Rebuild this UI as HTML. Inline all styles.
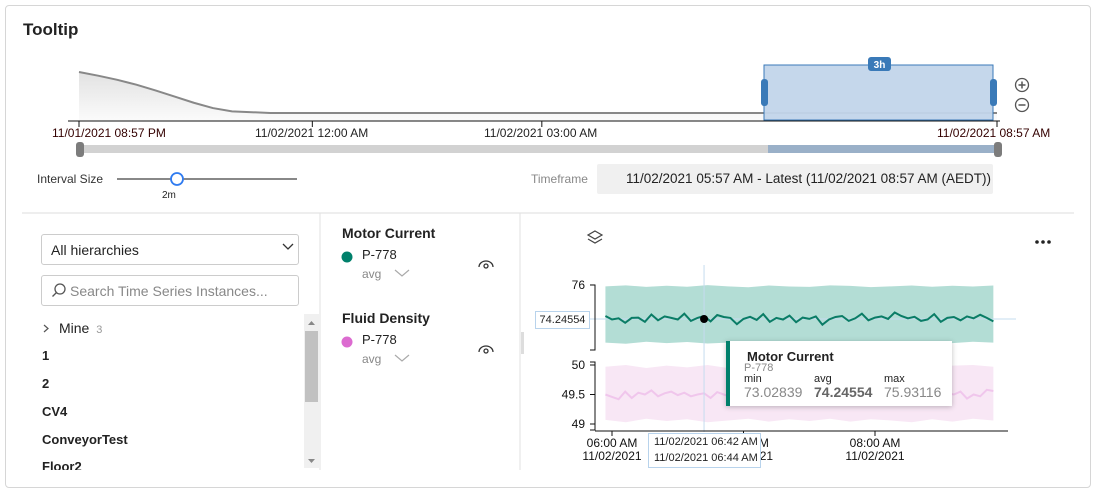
<!DOCTYPE html>
<html><head><meta charset="utf-8">
<style>
body{margin:0;width:1096px;height:492px;background:#fff;font-family:"Liberation Sans",sans-serif;overflow:hidden;position:relative}
.abs{position:absolute}
.card{left:5px;top:5px;width:1084px;height:481px;border:1px solid #d6d6d6;border-radius:4px}
.t{font-size:13px;color:#222;white-space:nowrap}
.b{font-weight:bold}
.g{color:#888}
</style></head><body>
<div class="abs card"></div>
<div class="abs b" style="left:23px;top:20px;font-size:17px;color:#222">Tooltip</div>

<svg class="abs" style="left:0;top:0" width="1096" height="492">
  <defs><linearGradient id="ag" x1="0" y1="0" x2="0" y2="1"><stop offset="0" stop-color="#e2e2e2"/><stop offset="1" stop-color="#fbfbfb"/></linearGradient></defs>
  <g id="brush"></g>
  <rect x="764" y="65" width="229" height="55" fill="#c2d5ea" fill-opacity="0.95" stroke="#3a7ab8"/>
  <rect x="761" y="79" width="7" height="27" rx="3" fill="#3a7ab8"/>
  <rect x="990" y="79" width="7" height="27" rx="3" fill="#3a7ab8"/>
  <rect x="868" y="57" width="23" height="14" rx="3" fill="#3a7ab8"/>
  <text x="879.5" y="68" font-size="10" font-weight="bold" fill="#fff" text-anchor="middle">3h</text>
  <g><circle cx="1022" cy="85" r="6.5" fill="#fff" stroke="#555" stroke-width="1.3"/><path d="M1018.5 85h7M1022 81.5v7" stroke="#555" stroke-width="1.5"/></g>
  <g><circle cx="1022" cy="105" r="6.5" fill="#fff" stroke="#555" stroke-width="1.3"/><path d="M1018.5 105h7" stroke="#555" stroke-width="1.5"/></g>
  <rect x="79" y="145" width="918" height="8" fill="#d2d2d2"/>
  <rect x="768" y="145" width="229" height="8" fill="#9ab0c8"/>
  <rect x="76" y="142" width="8" height="15" rx="3" fill="#7c7c7c"/>
  <rect x="994" y="142" width="8" height="15" rx="3" fill="#7c7c7c"/>
  <line x1="117" y1="179" x2="297" y2="179" stroke="#111"/>
  <circle cx="177" cy="179" r="6" fill="#fff" stroke="#2f7bf0" stroke-width="1.8"/>
  <line x1="22" y1="213" x2="1074" y2="213" stroke="#ddd"/>
  <line x1="320" y1="213" x2="320" y2="470" stroke="#e2e2e2"/>
  <line x1="520" y1="213" x2="520" y2="470" stroke="#e2e2e2"/>
  <rect x="521" y="332" width="3" height="22" fill="#ddd"/>
  <rect x="304" y="314" width="15" height="154" fill="#f0f0f0"/>
  <rect x="305" y="331" width="13" height="71" fill="#c1c1c1"/>
  <path d="M308 325l3.5-4 3.5 4z M308 459l3.5 4 3.5-4z" fill="#888"/>
  <g id="chart"></g>
  <g fill="none" stroke="#444" stroke-width="1.2"><path d="M595 231l7 4-7 4-7-4z"/><path d="M588 239l7 4 7-4"/></g>
  <g fill="#222"><circle cx="1037" cy="242" r="1.8"/><circle cx="1043" cy="242" r="1.8"/><circle cx="1049" cy="242" r="1.8"/></g>
  <g fill="none" stroke="#333" stroke-width="1.3"><path d="M479 267a7 6 0 0 1 14 0"/><circle cx="486" cy="266" r="2"/></g>
  <g fill="none" stroke="#333" stroke-width="1.3"><path d="M479 352a7 6 0 0 1 14 0"/><circle cx="486" cy="351" r="2"/></g>
  <circle cx="347" cy="257" r="5.5" fill="#00806b"/>
  <circle cx="347" cy="342" r="5.5" fill="#dc6bd0"/>
  <path d="M395 270l7 6 7-6M395 355l7 6 7-6" fill="none" stroke="#aaa" stroke-width="1.2"/>
  <path d="M283 244l5 5 5-5" fill="none" stroke="#333" stroke-width="1.3"/>
  <path d="M44 325l4 3.5-4 3.5" fill="none" stroke="#555" stroke-width="1.2"/>
  <g fill="none" stroke="#555" stroke-width="1.3"><circle cx="60" cy="289" r="5"/><path d="M56.5 292.5l-4 4"/></g>
  <g fill="none" stroke="#3a7ab8" stroke-width="1.2"><rect x="605" y="173" width="11" height="11"/><path d="M605 176.5h11M608 171v3M613 171v3"/></g>
</svg>

<div class="abs t" style="left:52px;top:126px;font-size:12px;color:#300">11/01/2021 08:57 PM</div>
<div class="abs t" style="left:255px;top:126px;font-size:12px">11/02/2021 12:00 AM</div>
<div class="abs t" style="left:484px;top:126px;font-size:12px">11/02/2021 03:00 AM</div>
<div class="abs t" style="left:937px;top:126px;font-size:12px;color:#300">11/02/2021 08:57 AM</div>
<div class="abs t" style="left:37px;top:172px;font-size:12px;color:#333">Interval Size</div>
<div class="abs t" style="left:162px;top:190px;font-size:10px">2m</div>
<div class="abs t g" style="left:531px;top:172px;font-size:12px">Timeframe</div>
<div class="abs t" style="left:597px;top:164px;width:396px;height:30px;background:#f0f0f0;border-radius:2px;line-height:30px;padding-left:29px;box-sizing:border-box;font-size:13.5px">11/02/2021 05:57 AM - Latest (11/02/2021 08:57 AM (AEDT))</div>

<div class="abs" style="left:41px;top:234px;width:258px;height:31px;border:1px solid #ccc;border-radius:3px;box-sizing:border-box"></div>
<div class="abs t" style="left:51px;top:242px;font-size:14px">All hierarchies</div>
<div class="abs" style="left:41px;top:275px;width:258px;height:31px;border:1px solid #ccc;border-radius:3px;box-sizing:border-box"></div>
<div class="abs t g" style="left:70px;top:283px;font-size:14px">Search Time Series Instances...</div>
<div class="abs t" style="left:59px;top:320px;font-size:14px">Mine <span style="font-size:11px;color:#999">&nbsp;3</span></div>
<div class="abs t b" style="left:42px;top:348px;font-size:13px">1</div>
<div class="abs t b" style="left:42px;top:376px;font-size:13px">2</div>
<div class="abs t b" style="left:42px;top:404px;font-size:13px">CV4</div>
<div class="abs t b" style="left:42px;top:432px;font-size:13px">ConveyorTest</div>
<div class="abs t b" style="left:42px;top:459px;font-size:13px">Floor2</div>
<div class="abs" style="left:30px;top:470px;width:300px;height:16px;background:#fff"></div>

<div class="abs t b" style="left:342px;top:225px;font-size:14px">Motor Current</div>
<div class="abs t" style="left:362px;top:247px;font-size:13px">P-778</div>
<div class="abs t g" style="left:362px;top:267px;font-size:12px">avg</div>
<div class="abs t b" style="left:342px;top:310px;font-size:14px">Fluid Density</div>
<div class="abs t" style="left:362px;top:332px;font-size:13px">P-778</div>
<div class="abs t g" style="left:362px;top:352px;font-size:12px">avg</div>

<div class="abs" style="left:726px;top:341px;width:226px;height:65px;background:#fff;box-shadow:0 1px 5px rgba(0,0,0,.25);border-left:4px solid #00806b;box-sizing:border-box">
  <div class="abs t b" style="left:17px;top:8px;font-size:13px">Motor Current</div>
  <div class="abs t g" style="left:14px;top:21px;font-size:11px">P-778</div>
  <div class="abs t" style="left:14px;top:32px;font-size:11px">min</div>
  <div class="abs t" style="left:84px;top:32px;font-size:11px">avg</div>
  <div class="abs t" style="left:154px;top:32px;font-size:11px">max</div>
  <div class="abs t g" style="left:14px;top:43px;font-size:14px">73.02839</div>
  <div class="abs t b" style="left:84px;top:43px;font-size:14px;color:#666">74.24554</div>
  <div class="abs t g" style="left:154px;top:43px;font-size:14px">75.93116</div>
</div>
<div class="abs t" style="left:535px;top:311px;width:55px;height:18px;border:1px solid #b8d3ec;background:#fff;box-sizing:border-box;font-size:11px;line-height:16px;text-align:center">74.24554</div>
<div class="abs t" style="left:648px;top:433px;width:113px;height:35px;border:1px solid #b8d3ec;background:#fff;box-sizing:border-box;font-size:11px;line-height:16px;padding-left:5px">11/02/2021 06:42 AM<br>11/02/2021 06:44 AM</div>

<script>
const NS='http://www.w3.org/2000/svg';
function mk(p,tag,a){const e=document.createElementNS(NS,tag);for(const k in a)e.setAttribute(k,a[k]);p.appendChild(e);return e;}
// brush data (relative volume over time, 11/01 20:57 -> 11/02 08:57)
const brushHours=[0,0.25,0.5,0.75,1,1.25,1.5,1.75,2,2.5,12];
const brushValues=[1.0,0.91,0.81,0.69,0.55,0.40,0.25,0.12,0.04,0,0];
const brushTickLabels=['11/01/2021 08:57 PM','11/02/2021 12:00 AM','11/02/2021 03:00 AM','11/02/2021 08:57 AM'];
const brushTickHours=[0,3.05,6.05,12];
// main chart data
const startHour=5.95, stepHour=3/60;
const motorAvg=[74.40,74.22,74.28,74.05,74.30,74.32,74.10,74.48,74.18,74.38,74.30,74.22,74.52,74.15,74.30,74.40,74.12,74.45,74.35,74.30,73.98,74.25,74.36,74.20,74.50,74.10,74.30,74.22,74.42,74.08,74.32,74.25,74.38,73.95,74.22,74.35,74.40,74.15,74.28,74.52,74.18,74.32,74.38,74.25,74.58,74.40,74.28,74.36,74.15,74.22,74.50,74.10,74.30,74.35,74.18,74.38,74.28,74.46,74.30,74.12];
const motorMax=[75.93,75.98,75.90,75.96,75.91,75.99,75.93,75.88,75.97,75.92,75.90,75.98,75.95,75.89,75.93,75.97,75.91,75.96,75.92,75.97];
const motorMin=[73.03,72.97,73.07,73.00,73.06,72.98,73.03,73.09,72.99,73.05,72.97,73.03,73.08,73.00,72.98,73.06,73.03,73.00,73.07,73.03];
const fluidAvg=[49.50,49.46,49.42,49.55,49.44,49.53,49.50,49.57,49.47,49.52,49.55,49.49,49.53,49.47,49.50,49.52,49.44,49.54,49.50,49.46,49.55,49.49,49.52,49.56,49.47,49.50,49.53,49.46,49.52,49.50,49.55,49.47,49.52,49.50,49.44,49.54,49.49,49.56,49.47,49.52,49.50,49.55,49.46,49.50,49.53,49.47,49.52,49.57,49.49,49.45,49.53,49.42,49.52,49.50,49.55,49.43,49.50,49.47,49.58,49.56];
const fluidMax=[49.97,50.00,49.95,49.99,49.96,50.00,49.95,49.99,49.97,50.00,49.98,49.95,49.97,50.00,49.98,49.95,49.97,49.99,50.00,49.97];
const fluidMin=[49.07,49.03,49.09,49.05,49.08,49.03,49.06,49.09,49.04,49.08,49.05,49.09,49.04,49.08,49.06,49.03,49.08,49.04,49.09,49.06];
const yTicksTop=[76];
const yTicksBottom=[50,49.5,49];
const xTickHours=[6,7,8];
const xTickLabels=['06:00 AM','07:00 AM','08:00 AM'];
const hoverHour=6.7;
const hoverValue=74.24554;

// brush
const bg=document.getElementById('brush');
const bx=h=>79+h/12*918, by=v=>113-v*41;
let d='M'+bx(0)+' 121';brushHours.forEach((h,i)=>d+=' L'+bx(h)+' '+by(brushValues[i]));d+=' L'+bx(12)+' 121Z';
mk(bg,'path',{d:d,fill:'url(#ag)'});
let dl='';brushHours.forEach((h,i)=>dl+=(i?' L':'M')+bx(h)+' '+by(brushValues[i]));
const bl=mk(bg,'path',{d:dl,fill:'none',stroke:'#888','stroke-width':2});


mk(bg,'line',{x1:68,y1:121,x2:1000,y2:121,stroke:'#111'});
brushTickHours.forEach(h=>mk(bg,'line',{x1:bx(h),y1:121,x2:bx(h),y2:127,stroke:'#111'}));

// main chart
const cg=document.getElementById('chart');
const x0=612, pxPerHour=131.5;
const xs=h=>x0+(h-6)*pxPerHour;
const yTop=v=>319-(v-hoverValue)*19.4;
const yBot=v=>365-(v-50)*59;
const tEnd=startHour+(motorAvg.length-1)*stepHour;
function band(maxA,minA,ys,fill,name){
  const n=maxA.length, st=(tEnd-startHour)/(n-1);
  let p='';maxA.forEach((v,i)=>p+=(i?' L':'M')+xs(startHour+i*st)+' '+ys(v));
  for(let i=n-1;i>=0;i--)p+=' L'+xs(startHour+i*st)+' '+ys(minA[i]);
  const e=mk(cg,'path',{d:p+'Z',fill:fill});
  
  
}
function line(arr,ys,stroke,name){
  let p='';arr.forEach((v,i)=>p+=(i?' L':'M')+xs(startHour+i*stepHour).toFixed(1)+' '+ys(v).toFixed(1));
  const e=mk(cg,'path',{d:p,fill:'none',stroke:stroke,'stroke-width':2});
  
  
}
band(motorMax,motorMin,yTop,'#b3ddd5','motor-range-band');
band(fluidMax,fluidMin,yBot,'#f8e7f5','fluid-range-band');
line(fluidAvg,yBot,'#f0c6ec','fluid-avg-line');
mk(cg,'line',{x1:590,y1:yTop(hoverValue),x2:1016,y2:yTop(hoverValue),stroke:'#c5dcef'});
line(motorAvg,yTop,'#0a7c66','motor-avg-line');
mk(cg,'line',{x1:xs(hoverHour),y1:265,x2:xs(hoverHour),y2:432,stroke:'#c5dcef'});
const hd=mk(cg,'circle',{cx:xs(hoverHour),cy:yTop(hoverValue),r:4,fill:'#000'});


// axes
mk(cg,'path',{d:'M590 285H595V350H590',fill:'none',stroke:'#111'});
mk(cg,'path',{d:'M590 362H595V430H590',fill:'none',stroke:'#111'});
yTicksTop.forEach(v=>{mk(cg,'line',{x1:590,y1:yTop(v),x2:595,y2:yTop(v),stroke:'#111'});const t=mk(cg,'text',{x:585,y:yTop(v)+4,'font-size':12,'text-anchor':'end',fill:'#111'});t.textContent=v;
  
  });
yTicksBottom.forEach(v=>{mk(cg,'line',{x1:590,y1:yBot(v),x2:595,y2:yBot(v),stroke:'#111'});const t=mk(cg,'text',{x:585,y:yBot(v)+4,'font-size':12,'text-anchor':'end',fill:'#111'});t.textContent=v;
  
  });
mk(cg,'line',{x1:595,y1:431,x2:1008,y2:431,stroke:'#111'});
xTickHours.forEach((h,i)=>{mk(cg,'line',{x1:xs(h),y1:431,x2:xs(h),y2:436,stroke:'#111'});
  const t=mk(cg,'text',{x:xs(h),y:447,'font-size':12,'text-anchor':'middle',fill:'#111'});t.textContent=xTickLabels[i];
  
  
  const t2=mk(cg,'text',{x:xs(h),y:460,'font-size':12,'text-anchor':'middle',fill:'#111'});t2.textContent='11/02/2021';});
</script>
</body></html>
